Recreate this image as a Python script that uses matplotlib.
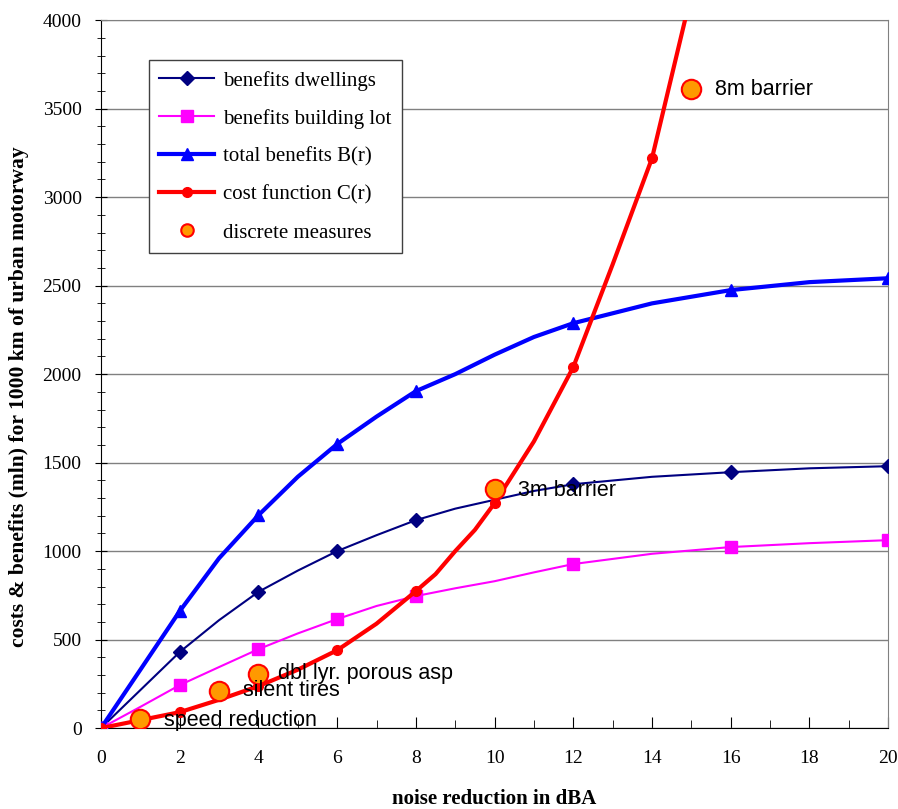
import numpy as np
import matplotlib
matplotlib.use("Agg")
import matplotlib.pyplot as plt
from matplotlib.ticker import MultipleLocator

# noise reduction (dBA) grid for the curves
r = [0, 1, 2, 3, 4, 5, 6, 7, 8, 9, 10, 11, 12, 14, 16, 18, 20]
marker_idx = [0, 2, 4, 6, 8, 12, 14, 16]

dwellings = [0, 215, 430, 610, 770, 890, 1000, 1090, 1175, 1240, 1290, 1340, 1378, 1420, 1446, 1468, 1480]
building_lot = [0, 120, 243, 345, 446, 535, 616, 690, 746, 790, 830, 880, 927, 985, 1023, 1045, 1062]
total_benefits = [0, 330, 661, 960, 1203, 1420, 1605, 1760, 1904, 2000, 2110, 2210, 2288, 2400, 2475, 2520, 2542]

cost_r = [0, 1, 2, 3, 4, 5, 6, 7, 8, 8.5, 9, 9.5, 10, 11, 12, 13, 14, 15]
cost = [0, 45, 90, 160, 237, 330, 440, 590, 774, 870, 1000, 1120, 1271, 1620, 2040, 2620, 3220, 4150]
cost_markers = [0, 2, 4, 6, 8, 12, 14, 16]

measures_x = [1, 3, 4, 10, 15]
measures_y = [50, 209, 305, 1350, 3610]
measures = ["speed reduction", "silent tires", "dbl lyr. porous asp", "3m barrier", "8m barrier"]
label_pos = [(1.6, 45), (3.6, 210), (4.5, 310), (10.6, 1340), (15.6, 3610)]

serif = ["Liberation Serif", "DejaVu Serif"]
sans = ["Liberation Sans", "DejaVu Sans"]

fig = plt.figure(figsize=(8.98, 8.09), dpi=100)
ax = fig.add_axes([0.1125, 0.100, 0.8765, 0.875])

ax.plot(r, dwellings, color="#000080", lw=1.5, marker="D", ms=7,
        markevery=marker_idx, label="benefits dwellings", zorder=3)
ax.plot(r, building_lot, color="#FF00FF", lw=1.5, marker="s", ms=8,
        markevery=marker_idx, label="benefits building lot", zorder=3)
ax.plot(r, total_benefits, color="#0000FF", lw=3, marker="^", ms=9,
        markevery=marker_idx, label="total benefits B(r)", zorder=4)
ax.plot(cost_r, cost, color="#FF0000", lw=3, marker="o", ms=7,
        markevery=cost_markers, label="cost function C(r)", zorder=5)
ax.plot(measures_x, measures_y, ls="none", marker="o", ms=14,
        mfc="#FF9900", mec="#FF0000", mew=1.5, label="discrete measures", zorder=6)

for (tx, ty), name in zip(label_pos, measures):
    ax.text(tx, ty, name, fontsize=15.5, family=sans, va="center", ha="left", zorder=7)

ax.set_xlim(0, 20)
ax.set_ylim(0, 4000)
ax.xaxis.set_major_locator(MultipleLocator(2))
ax.xaxis.set_minor_locator(MultipleLocator(1))
ax.yaxis.set_major_locator(MultipleLocator(500))
ax.yaxis.set_minor_locator(MultipleLocator(100))
ax.tick_params(axis="y", which="both", direction="inout", right=False)
ax.tick_params(axis="x", which="both", direction="in", top=False)
ax.tick_params(which="major", length=8, labelsize=14)
ax.tick_params(which="minor", length=6)
ax.tick_params(axis="x", pad=16)
ax.tick_params(axis="y", pad=10)
for lab in ax.get_xticklabels() + ax.get_yticklabels():
    lab.set_family(serif)

ax.grid(axis="y", color="#808080", lw=1)
ax.set_axisbelow(True)
ax.spines["left"].set_color("black")
ax.spines["bottom"].set_color("black")
ax.spines["top"].set_color("#808080")
ax.spines["right"].set_color("#808080")

ax.set_xlabel("noise reduction in dBA", fontsize=15, fontweight="bold", family=serif, va="center")
ax.xaxis.set_label_coords(0.5, -0.1)
ax.set_ylabel("costs & benefits (mln) for 1000 km of urban motorway", fontsize=15.5,
              fontweight="bold", family=serif, va="center")
ax.yaxis.set_label_coords(-0.104, 0.4675)

leg = ax.legend(loc="upper left", bbox_to_anchor=(0.061, 0.9435), borderaxespad=0,
                prop={"family": serif, "size": 15},
                fancybox=False, edgecolor="#404040", framealpha=1, handlelength=2.6,
                borderpad=0.5, labelspacing=0.88, handletextpad=0.45)
leg.get_frame().set_linewidth(1)
leg.legend_handles[4].set_markersize(9)

fig.savefig("out.png", dpi=100)
